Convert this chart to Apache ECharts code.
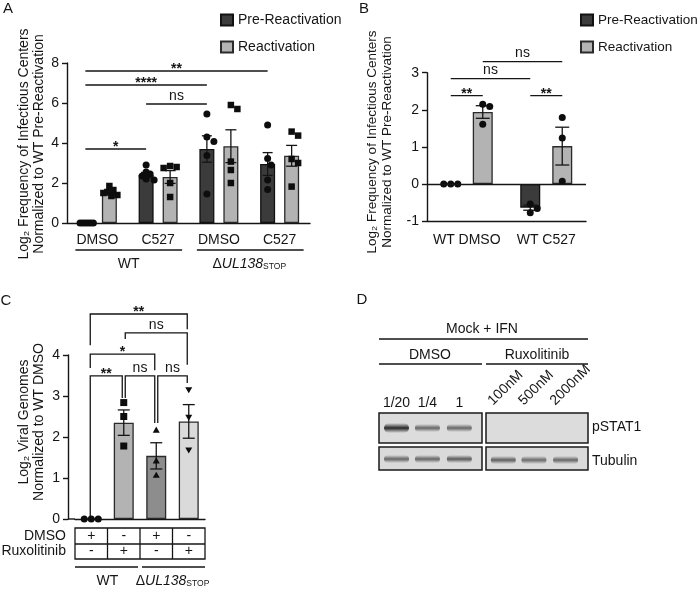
<!DOCTYPE html>
<html>
<head>
<meta charset="utf-8">
<title>Figure</title>
<script src="https://cdn.jsdelivr.net/npm/echarts@6.0.0/dist/echarts.min.js"></script>
<style>
  html, body { margin: 0; padding: 0; background: #fff; }
  #main { width: 700px; height: 591px; }
</style>
</head>
<body>
<div id="main"></div>
<script>
const FONT = '"Liberation Sans", Arial, Helvetica, sans-serif';
const INK = '#151515';

// legend / series names (A and B)
const seriesNames = ['Pre-Reactivation', 'Reactivation'];
const strainNames = ['WT', '\u0394UL138'];
const strainSub = ['', 'STOP'];

// panel A
const catsA = ['DMSO', 'C527', 'DMSO', 'C527'];
const preA = [0, 2.4, 3.7, 2.95];
const preErrA = [0, 0.13, 0.66, 0.57];
const reA = [1.5, 2.3, 3.84, 3.36];
const reErrA = [0.1, 0.32, 0.82, 0.52];
const prePtsA = [
  [0, 0, 0, 0, 0, 0],
  [2.9, 2.55, 2.45, 2.35, 2.2, 2.15],
  [5.45, 4.3, 4.07, 3.37, 1.45],
  [4.9, 3.23, 2.9, 2.15, 1.68]
];
const rePtsA = [
  [1.85, 1.65, 1.55, 1.5, 1.4, 1.35],
  [2.85, 2.8, 2.75, 2.0, 1.3],
  [5.9, 5.7, 3.07, 2.65, 2.0],
  [4.57, 4.37, 3.2, 3.0, 1.82]
];
// [cat, side, cat, side, y, label]; side -1 = pre, +1 = reactivation
const sigA = [
  [0, -1, 3, -1, 7.6, '**'],
  [0, -1, 2, -1, 6.9, '****'],
  [1, -1, 2, -1, 5.95, 'ns'],
  [0, -1, 1, -1, 3.7, '*']
];
const titleA = ['Log\u2082 Frequency of Infectious Centers', 'Normalized to WT Pre-Reactivation'];

// panel B
const catsB = ['WT DMSO', 'WT C527'];
const preB = [0, -0.64];
const preErrB = [0, 0.07];
const reB = [1.94, 1.02];
const reErrB = [0.17, 0.51];
const prePtsB = [[0, 0, 0], [-0.54, -0.78, -0.66]];
const rePtsB = [[2.15, 2.09, 1.61], [1.79, 1.24, 0.07]];
const sigB = [
  [0, -1, 0, 1, 2.38, '**'],
  [1, -1, 1, 1, 2.38, '**'],
  [0, -1, 1, -1, 2.84, 'ns'],
  [0, 1, 1, 1, 3.3, 'ns']
];

// panel C
const condC = ['WT DMSO', 'WT Rux', 'dUL138 DMSO', 'dUL138 Rux'];
const meanC = [0, 2.35, 1.54, 2.38];
const errC = [0, 0.31, 0.32, 0.41];
const ptsC = [[0, 0, 0], [2.84, 2.5, 1.78], [2.17, 1.42, 1.07], [3.15, 2.48, 1.68]];
const shapesC = ['circle', 'square', 'tri', 'itri'];
const fillC = ['#c8c8c8', '#b3b3b3', '#8d8d8d', '#dadada'];
const dmsoRow = ['+', '-', '+', '-'];
const ruxRow = ['-', '+', '-', '+'];
const rowNames = ['DMSO', 'Ruxolitinib'];
// [leftCat, rightCat, top, leftEnd, rightEnd, label]
const sigC = [
  [0, 3, 5.0, 4.24, 4.63, '**'],
  [1, 3, 4.54, 4.39, 3.76, 'ns'],
  [0, 2, 4.02, 3.68, 3.63, '*'],
  [0, 1, 3.49, 0.05, 2.95, '**'],
  [1, 2, 3.49, 2.95, 2.34, 'ns'],
  [2, 3, 3.49, 2.34, 3.32, 'ns']
];
const titleC = ['Log\u2082 Viral Genomes', 'Normalized to WT DMSO'];

// panel D (western blot)
const blotHeader = 'Mock + IFN';
const blotGroups = ['DMSO', 'Ruxolitinib'];
const dmsoLanes = ['1/20', '1/4', '1'];
const ruxLanes = ['100nM', '500nM', '2000nM'];
const pstatDmso = [0.95, 0.62, 0.62];
const pstatRux = [0, 0, 0];
const tubDmso = [0.62, 0.62, 0.68];
const tubRux = [0.66, 0.6, 0.62];

// bar layout
const barWA = 15, gapA = 9;
const barWB = 20, gapB = 12;
const offA = (barWA + gapA) / 2, offB = (barWB + gapB) / 2;

function swarm(ys, d, lim) {
  const idx = ys.map((_, i) => i).sort((a, b) => ys[a] - ys[b]);
  const placed = [];
  const offs = ys.map(() => 0);
  idx.forEach(i => {
    let best = 0;
    for (let s = 0; s < 24; s++) {
      const dx = s === 0 ? 0 : (s % 2 ? 1 : -1) * Math.ceil(s / 2) * d * 0.5;
      if (placed.every(p => Math.hypot(p[0] - dx, p[1] - ys[i]) >= d)) { best = dx; break; }
    }
    offs[i] = best;
    placed.push([best, ys[i]]);
  });
  const m = Math.max(...offs.map(Math.abs));
  return m > lim ? offs.map(o => o * lim / m) : offs;
}

function marker(shape, x, y, s) {
  const st = { fill: '#0d0d0d' };
  const h = s / 2;
  if (shape === 'square') return { type: 'rect', shape: { x: x - h, y: y - h, width: s, height: s }, style: st };
  if (shape === 'tri') return { type: 'polygon', shape: { points: [[x, y - h], [x + h, y + h * 0.75], [x - h, y + h * 0.75]] }, style: st };
  if (shape === 'itri') return { type: 'polygon', shape: { points: [[x, y + h], [x + h, y - h * 0.75], [x - h, y - h * 0.75]] }, style: st };
  return { type: 'circle', shape: { cx: x, cy: y, r: h }, style: st };
}

function pointLayer(groups, shapeOf, dx, size, spread) {
  return function (params, api) {
    const c = api.value(0), k = api.value(2);
    const vals = groups[c];
    const ys = vals.map(v => api.coord([c, v])[1]);
    const offs = swarm(ys, size, spread);
    const p = api.coord([c, vals[k]]);
    return marker(shapeOf(c), p[0] + dx + offs[k], p[1], size);
  };
}

function errLayer(dx, cap) {
  return function (params, api) {
    const c = api.value(0), m = api.value(1), e = api.value(2);
    if (!e) return null;
    const hi = api.coord([c, m + e]), lo = api.coord([c, m - e]);
    const x = hi[0] + dx;
    const st = { stroke: INK, lineWidth: 1.3 };
    return { type: 'group', children: [
      { type: 'line', shape: { x1: x, y1: hi[1], x2: x, y2: lo[1] }, style: st },
      { type: 'line', shape: { x1: x - cap, y1: hi[1], x2: x + cap, y2: hi[1] }, style: st },
      { type: 'line', shape: { x1: x - cap, y1: lo[1], x2: x + cap, y2: lo[1] }, style: st }
    ] };
  };
}

const flat = groups => {
  const out = [];
  groups.forEach((vals, c) => vals.forEach((v, k) => out.push([c, v, k])));
  return out;
};

const axisLineStyle = { color: INK, width: 1.4 };
const labelStyle = { color: INK, fontSize: 14, fontFamily: FONT };

function valueAxis(grid, min, max, interval, extra) {
  return Object.assign({
    type: 'value', gridIndex: grid, min, max, interval,
    axisLine: { show: true, lineStyle: axisLineStyle },
    axisTick: { show: true, length: 5, lineStyle: axisLineStyle },
    splitLine: { show: false },
    axisLabel: Object.assign({ margin: 8 }, labelStyle)
  }, extra || {});
}

const preStyle = { color: '#3b3b3b', borderColor: '#111', borderWidth: 1.3 };
const reStyle = { color: '#b3b3b3', borderColor: '#2a2a2a', borderWidth: 1.3 };

const chart = echarts.init(document.getElementById('main'));

const option = {
  animation: false,
  backgroundColor: '#fff',
  textStyle: { fontFamily: FONT },
  grid: [
    { left: 67, top: 63, width: 243, height: 160, outerBoundsMode: 'none' },
    { left: 427, top: 72.7, width: 159, height: 148.3, outerBoundsMode: 'none' },
    { left: 75, top: 355, width: 130, height: 164, outerBoundsMode: 'none' }
  ],
  legend: [
    { data: seriesNames, left: 220, top: 13, padding: 0, orient: 'vertical', icon: 'rect',
      itemWidth: 12, itemHeight: 11, itemGap: 13, textStyle: labelStyle, selectedMode: false },
    { data: seriesNames, left: 580, top: 13, padding: 0, orient: 'vertical', icon: 'rect',
      itemWidth: 12, itemHeight: 11, itemGap: 13, textStyle: Object.assign({}, labelStyle, { fontSize: 13.5 }), selectedMode: false }
  ],
  xAxis: [
    { type: 'category', gridIndex: 0, data: catsA,
      axisLine: { lineStyle: axisLineStyle }, axisTick: { alignWithLabel: true, length: 5, lineStyle: axisLineStyle },
      axisLabel: Object.assign({ margin: 10, interval: 0 }, labelStyle) },
    { type: 'category', gridIndex: 1, data: catsB,
      axisLine: { onZero: false, lineStyle: axisLineStyle }, axisTick: { alignWithLabel: true, length: 5, lineStyle: axisLineStyle },
      axisLabel: Object.assign({ margin: 12, interval: 0 }, labelStyle) },
    { type: 'category', gridIndex: 2, data: condC,
      axisLine: { lineStyle: axisLineStyle }, axisTick: { show: false }, axisLabel: { show: false } }
  ],
  yAxis: [
    valueAxis(0, 0, 8, 2),
    valueAxis(1, -1, 3, 1),
    valueAxis(2, 0, 4, 1, { offset: 7 })
  ],
  series: [
    // A
    { type: 'bar', name: seriesNames[0], xAxisIndex: 0, yAxisIndex: 0, data: preA, barWidth: barWA, barGap: (gapA / barWA * 100) + '%', itemStyle: preStyle },
    { type: 'bar', name: seriesNames[1], xAxisIndex: 0, yAxisIndex: 0, data: reA, barWidth: barWA, barGap: (gapA / barWA * 100) + '%', itemStyle: reStyle },
    { type: 'custom', xAxisIndex: 0, yAxisIndex: 0, z: 3, clip: false, silent: true, encode: { x: 0, y: 1 },
      renderItem: errLayer(-offA, 5), data: preA.map((m, i) => [i, m, preErrA[i]]) },
    { type: 'custom', xAxisIndex: 0, yAxisIndex: 0, z: 3, clip: false, silent: true, encode: { x: 0, y: 1 },
      renderItem: errLayer(offA, 5.5), data: reA.map((m, i) => [i, m, reErrA[i]]) },
    { type: 'custom', xAxisIndex: 0, yAxisIndex: 0, z: 4, clip: false, silent: true, encode: { x: 0, y: 1 },
      renderItem: pointLayer(prePtsA, () => 'circle', -offA, 7, 8), data: flat(prePtsA) },
    { type: 'custom', xAxisIndex: 0, yAxisIndex: 0, z: 4, clip: false, silent: true, encode: { x: 0, y: 1 },
      renderItem: pointLayer(rePtsA, () => 'square', offA, 6.5, 8), data: flat(rePtsA) },
    // B
    { type: 'bar', name: seriesNames[0], xAxisIndex: 1, yAxisIndex: 1, data: preB, barWidth: barWB, barGap: (gapB / barWB * 100) + '%', itemStyle: preStyle,
      markLine: { silent: true, symbol: 'none', label: { show: false }, lineStyle: { color: INK, type: 'solid', width: 1.4 }, data: [{ yAxis: 0 }] } },
    { type: 'bar', name: seriesNames[1], xAxisIndex: 1, yAxisIndex: 1, data: reB, barWidth: barWB, barGap: (gapB / barWB * 100) + '%', itemStyle: reStyle },
    { type: 'custom', xAxisIndex: 1, yAxisIndex: 1, z: 3, clip: false, silent: true, encode: { x: 0, y: 1 },
      renderItem: errLayer(-offB, 7), data: preB.map((m, i) => [i, m, preErrB[i]]) },
    { type: 'custom', xAxisIndex: 1, yAxisIndex: 1, z: 3, clip: false, silent: true, encode: { x: 0, y: 1 },
      renderItem: errLayer(offB, 7), data: reB.map((m, i) => [i, m, reErrB[i]]) },
    { type: 'custom', xAxisIndex: 1, yAxisIndex: 1, z: 4, clip: false, silent: true, encode: { x: 0, y: 1 },
      renderItem: pointLayer(prePtsB, () => 'circle', -offB, 7, 10), data: flat(prePtsB) },
    { type: 'custom', xAxisIndex: 1, yAxisIndex: 1, z: 4, clip: false, silent: true, encode: { x: 0, y: 1 },
      renderItem: pointLayer(rePtsB, () => 'circle', offB, 7, 10), data: flat(rePtsB) },
    // C
    { type: 'bar', xAxisIndex: 2, yAxisIndex: 2, barWidth: 20,
      data: meanC.map((v, i) => ({ value: v, itemStyle: { color: fillC[i], borderColor: '#2a2a2a', borderWidth: 1.3 } })) },
    { type: 'custom', xAxisIndex: 2, yAxisIndex: 2, z: 3, clip: false, silent: true, encode: { x: 0, y: 1 },
      renderItem: errLayer(0, 6), data: meanC.map((m, i) => [i, m, errC[i]]) },
    { type: 'custom', xAxisIndex: 2, yAxisIndex: 2, z: 4, clip: false, silent: true, encode: { x: 0, y: 1 },
      renderItem: pointLayer(ptsC, c => shapesC[c], 0, 7, 10), data: flat(ptsC) }
  ]
};

chart.setOption(option);

// ---- annotations (brackets, group labels, table, blot)
const px = (i, c, v) => chart.convertToPixel({ xAxisIndex: i, yAxisIndex: i }, [c, v]);
const g = [];
function txt(x, y, s, o) {
  g.push({ type: 'text', x, y, silent: true, style: Object.assign({
    text: s, fill: INK, font: '14px ' + FONT, align: 'center', verticalAlign: 'middle',
    textAlign: 'center', textVerticalAlign: 'middle' }, o || {}) });
}
function ln(x1, y1, x2, y2, w) {
  g.push({ type: 'line', silent: true, shape: { x1, y1, x2, y2 }, style: { stroke: INK, lineWidth: w || 1.3 } });
}
function strainText(x, y, i) {
  const nm = strainNames[i];
  let t;
  if (nm.charAt(0) === '\u0394') {
    t = '{n|\u0394}{i|' + nm.slice(1) + '}{s|' + strainSub[i] + '}';
  } else {
    t = '{n|' + nm + '}';
  }
  g.push({ type: 'text', x, y, silent: true, style: {
    text: t, align: 'center', verticalAlign: 'middle', textAlign: 'center', textVerticalAlign: 'middle',
    rich: {
      n: { fontSize: 14, fontFamily: FONT, fill: INK, lineHeight: 17, verticalAlign: 'bottom' },
      i: { fontSize: 14, fontFamily: FONT, fontStyle: 'italic', fill: INK, lineHeight: 17, verticalAlign: 'bottom' },
      s: { fontSize: 8.5, fontFamily: FONT, fill: INK, lineHeight: 5, verticalAlign: 'bottom' }
    } } });
}
function sigLabel(x, y, label) {
  const star = label.indexOf('*') >= 0;
  txt(x, star ? y + 5 : y - 1, label, {
    font: (star ? 'bold 14px ' : '14px ') + FONT, verticalAlign: 'bottom', textVerticalAlign: 'bottom' });
}
function rotTitle(x, y, lines, size) {
  g.push({ type: 'text', x, y, rotation: Math.PI / 2, silent: true, style: {
    text: lines.join('\n'), fill: INK, font: size + 'px ' + FONT, lineHeight: 15,
    align: 'center', verticalAlign: 'middle', textAlign: 'center', textVerticalAlign: 'middle' } });
}

// panel letters
txt(8, 9, 'A', { font: '15px ' + FONT });
txt(364, 9, 'B', { font: '15px ' + FONT });
txt(6, 301, 'C', { font: '15px ' + FONT });
txt(362, 300, 'D', { font: '15px ' + FONT });

// A
rotTitle(32, 144, titleA, 14);
sigA.forEach(s => {
  const a = px(0, s[0], s[4]), b = px(0, s[2], s[4]);
  const x1 = a[0] + s[1] * offA, x2 = b[0] + s[3] * offA;
  ln(x1, a[1], x2, a[1]);
  sigLabel((x1 + x2) / 2, a[1], s[5]);
});
{
  const c = [0, 1, 2, 3].map(i => px(0, i, 0));
  const y = c[0][1];
  ln(c[0][0] - 22, y + 27, c[1][0] + 24, y + 27);
  ln(c[2][0] - 22, y + 27, c[3][0] + 24, y + 27);
  strainText((c[0][0] + c[1][0]) / 2 + 1, y + 40, 0);
  strainText((c[2][0] + c[3][0]) / 2, y + 40, 1);
}

// B
rotTitle(380, 142, titleA, 13.5);
sigB.forEach(s => {
  const a = px(1, s[0], s[4]), b = px(1, s[2], s[4]);
  const x1 = a[0] + s[1] * offB, x2 = b[0] + s[3] * offB;
  ln(x1, a[1], x2, a[1]);
  sigLabel((x1 + x2) / 2, a[1], s[5]);
});

// C
rotTitle(32, 422, titleC, 14);
{
  const c = [0, 1, 2, 3].map(i => px(2, i, 0));
  const y = c[0][1];
  const yAxisX = c[0][0] - (c[1][0] - c[0][0]) / 2 - 7;
  ln(yAxisX, y, c[0][0] - (c[1][0] - c[0][0]) / 2, y, 1.4);
  sigC.forEach(s => {
    const top = px(2, s[0], s[2])[1];
    const xl = c[s[0]][0] + (s[0] > 0 ? 1.5 : -1), xr = c[s[1]][0] - 1.5;
    const yl = px(2, s[0], s[3])[1], yr = px(2, s[1], s[4])[1];
    g.push({ type: 'polyline', silent: true, shape: { points: [[xl, yl], [xl, top], [xr, top], [xr, yr]] },
      style: { stroke: INK, lineWidth: 1.3, fill: null } });
    sigLabel((xl + xr) / 2, top, s[5]);
  });
  // treatment table
  const half = (c[1][0] - c[0][0]) / 2;
  const left = c[0][0] - half, right = c[3][0] + half;
  const r0 = y + 9, r1 = y + 25, r2 = y + 40;
  g.push({ type: 'rect', silent: true, shape: { x: left, y: r0, width: right - left, height: r2 - r0 },
    style: { stroke: INK, lineWidth: 1.3, fill: null } });
  ln(left, r1, right, r1);
  for (let i = 1; i < 4; i++) ln(c[i][0] - half, r0, c[i][0] - half, r2);
  for (let i = 0; i < 4; i++) {
    txt(c[i][0], (r0 + r1) / 2, dmsoRow[i], { font: '14px ' + FONT });
    txt(c[i][0], (r1 + r2) / 2, ruxRow[i], { font: '14px ' + FONT });
  }
  txt(left - 9, (r0 + r1) / 2, rowNames[0], { align: 'right', textAlign: 'right' });
  txt(left - 9, (r1 + r2) / 2, rowNames[1], { align: 'right', textAlign: 'right' });
  ln(left, y + 48, c[1][0] + half - 2, y + 48);
  ln(c[2][0] - half + 2, y + 48, right, y + 48);
  strainText((c[0][0] + c[1][0]) / 2, y + 61, 0);
  strainText((c[2][0] + c[3][0]) / 2, y + 61, 1);
}

// D: western blot
{
  const boxes = [{ x: 379, w: 103 }, { x: 486, w: 102 }];
  const laneFrac = [0.17, 0.47, 0.78];
  const rowP = { y: 413, h: 30 }, rowT = { y: 447, h: 23 };
  txt(482, 329, blotHeader);
  ln(379, 339, 588, 339);
  txt(430, 355, blotGroups[0]);
  txt(537, 355, blotGroups[1]);
  ln(379, 364, 482, 364);
  ln(486, 364, 588, 364);
  const band = (cx, cy, w, h, a) => {
    if (a <= 0) return;
    g.push({ type: 'rect', silent: true, shape: { x: cx - w / 2, y: cy - h / 2, width: w, height: h, r: h / 2 },
      style: { fill: new echarts.graphic.LinearGradient(0, 0, 0, 1, [
        { offset: 0, color: 'rgba(30,30,30,0)' },
        { offset: 0.5, color: 'rgba(30,30,30,' + a + ')' },
        { offset: 1, color: 'rgba(30,30,30,0)' }]) } });
  };
  [[pstatDmso, tubDmso, dmsoLanes], [pstatRux, tubRux, ruxLanes]].forEach((set, b) => {
    const bx = boxes[b];
    g.push({ type: 'rect', silent: true, shape: { x: bx.x, y: rowP.y, width: bx.w, height: rowP.h },
      style: { fill: '#dcdcdc', stroke: '#1a1a1a', lineWidth: 1.5 } });
    g.push({ type: 'rect', silent: true, shape: { x: bx.x, y: rowT.y, width: bx.w, height: rowT.h },
      style: { fill: '#dadada', stroke: '#1a1a1a', lineWidth: 1.5 } });
    laneFrac.forEach((f, i) => {
      const cx = bx.x + bx.w * f;
      band(cx, rowP.y + 15, 25, set[0][i] > 0.8 ? 10 : 8, set[0][i]);
      band(cx, rowT.y + 12 + (b ? 1 : 0), 25, 8, set[1][i]);
      if (b === 0) {
        txt(cx, 403, set[2][i]);
      } else {
        g.push({ type: 'text', x: cx - 8, y: 408, rotation: Math.PI / 4, silent: true, style: {
          text: set[2][i], fill: INK, font: '14px ' + FONT, align: 'left', verticalAlign: 'bottom',
          textAlign: 'left', textVerticalAlign: 'bottom' } });
      }
    });
  });
  txt(592, 427, 'pSTAT1', { align: 'left', textAlign: 'left' });
  txt(592, 461, 'Tubulin', { align: 'left', textAlign: 'left' });
}

chart.setOption({ graphic: { elements: g } });
</script>
</body>
</html>
